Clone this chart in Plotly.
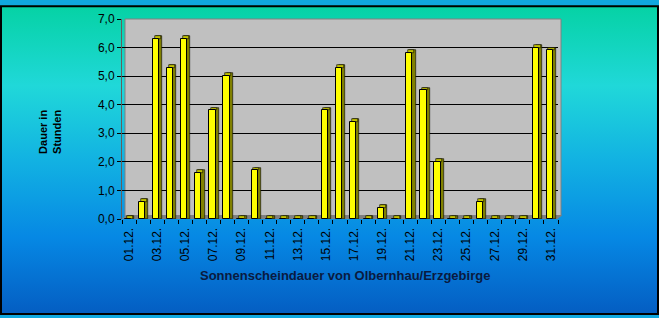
import base64
import plotly.graph_objects as go

days = [f"{d:02d}.12." for d in range(1, 32)]
hours = [0.0, 0.6, 6.3, 5.3, 6.3, 1.6, 3.8, 5.0, 0.0, 1.7,
         0.0, 0.0, 0.0, 0.0, 3.8, 5.3, 3.4, 0.0, 0.4, 0.0,
         5.8, 4.5, 2.0, 0.0, 0.0, 0.6, 0.0, 0.0, 0.0, 6.0, 5.9]
y_title = "Dauer in<br>Stunden"
x_title = "Sonnenscheindauer von Olbernhau/Erzgebirge"

W, H = 659, 318
L, R, T, B = 122, 101, 14, 98.5
pw, ph = W - L - R, H - T - B

xs = list(range(len(days)))
depth_y = 0.1

svg = f'''<svg xmlns="http://www.w3.org/2000/svg" width="{W}" height="{H}" viewBox="0 0 {W} {H}" preserveAspectRatio="none">
<defs><linearGradient id="g" x1="0" y1="0" x2="0" y2="1">
<stop offset="0" stop-color="#05d2a4"/>
<stop offset="0.26" stop-color="#20d8d9"/>
<stop offset="0.5" stop-color="#12b2e2"/>
<stop offset="0.75" stop-color="#0688e4"/>
<stop offset="1" stop-color="#045dc2"/>
</linearGradient></defs>
<rect x="0" y="0" width="{W}" height="{H}" fill="url(#g)"/>
</svg>'''
src = "data:image/svg+xml;base64," + base64.b64encode(svg.encode()).decode()

fig = go.Figure()
# side/back face
fig.add_trace(go.Bar(x=xs, y=[v + depth_y for v in hours], base=0, width=0.44, offset=-0.07,
                     marker=dict(color="#808000", line=dict(color="black", width=0.6)),
                     hoverinfo="skip"))
# top face (also the flat slab for zero values)
fig.add_trace(go.Bar(x=xs, y=[depth_y] * len(xs), base=hours, width=0.44, offset=-0.18,
                     marker=dict(color="#c4c400", line=dict(color="black", width=0.6)),
                     hoverinfo="skip"))
# front face
fig.add_trace(go.Bar(x=xs, y=hours, base=0, width=0.44, offset=-0.29,
                     marker=dict(color="#ffff00", line=dict(color="black", width=1)),
                     hoverinfo="skip"))

shapes = [
    # back wall
    dict(type="rect", xref="paper", yref="paper", x0=3 / pw, x1=1 + 3 / pw, y0=3 / ph, y1=1,
         fillcolor="#c0c0c0", line=dict(color="#808080", width=1), layer="below"),
    # floor
    dict(type="path", xref="paper", yref="paper",
         path=f"M 0 0 L {1 - 0.5/pw} 0 L {1 + 4/pw} {4/ph} L {4/pw} {4/ph} Z",
         fillcolor="#808080", line=dict(width=0), layer="below"),
    # outer border
    dict(type="rect", xref="paper", yref="paper",
         x0=-L / pw + 1 / pw, x1=1 + (R - 1) / pw, y0=-(B - 1) / ph, y1=1 + (T - 1) / ph,
         line=dict(color="black", width=2), layer="above"),
]

fig.update_layout(
    width=W, height=H, autosize=False,
    margin=dict(l=L, r=R, t=T, b=B),
    paper_bgcolor="#10a8e0", plot_bgcolor="rgba(0,0,0,0)",
    barmode="overlay", bargap=0, showlegend=False,
    separators=",.",
    font=dict(family="Liberation Sans, Arial, sans-serif", size=12, color="black"),
    images=[dict(source=src, xref="paper", yref="paper", x=-L / pw, y=1 + T / ph,
                 sizex=W / pw, sizey=H / ph, sizing="stretch", xanchor="left",
                 yanchor="top", layer="below")],
    shapes=shapes,
    xaxis=dict(range=[-0.5, len(xs) - 0.5], tickvals=xs[::2], ticktext=days[::2],
               tickangle=-90, ticks="outside", ticklen=3, tickcolor="rgba(0,0,0,0)",
               showgrid=False, zeroline=False,
               showline=False, tickfont=dict(size=12),
               minor=dict(tick0=-0.5, dtick=1, ticks="outside", ticklen=4,
                          tickcolor="black", showgrid=False)),
    yaxis=dict(range=[0, 7], dtick=1, tickformat=".1f", ticks="outside", ticklen=4,
               tickcolor="black", showline=True, linecolor="#606060", linewidth=1,
               showgrid=True, gridcolor="black", gridwidth=1, zeroline=False,
               tickfont=dict(size=12)),
    annotations=[
        dict(text=f"<b>{y_title}</b>", xref="paper", yref="paper",
             x=-(L - 50) / pw, y=1 - (130 - T) / ph, textangle=-90, showarrow=False,
             xanchor="center", yanchor="middle",
             font=dict(size=11, color="black"), align="center"),
        dict(text=f"<b>{x_title}</b>", xref="paper", yref="paper",
             x=(345 - L) / pw, y=-(278 - T - ph) / ph, showarrow=False,
             font=dict(size=13, color="#0a1a40"), xanchor="center", yanchor="middle"),
    ],
)

fig.write_html("out.html")
